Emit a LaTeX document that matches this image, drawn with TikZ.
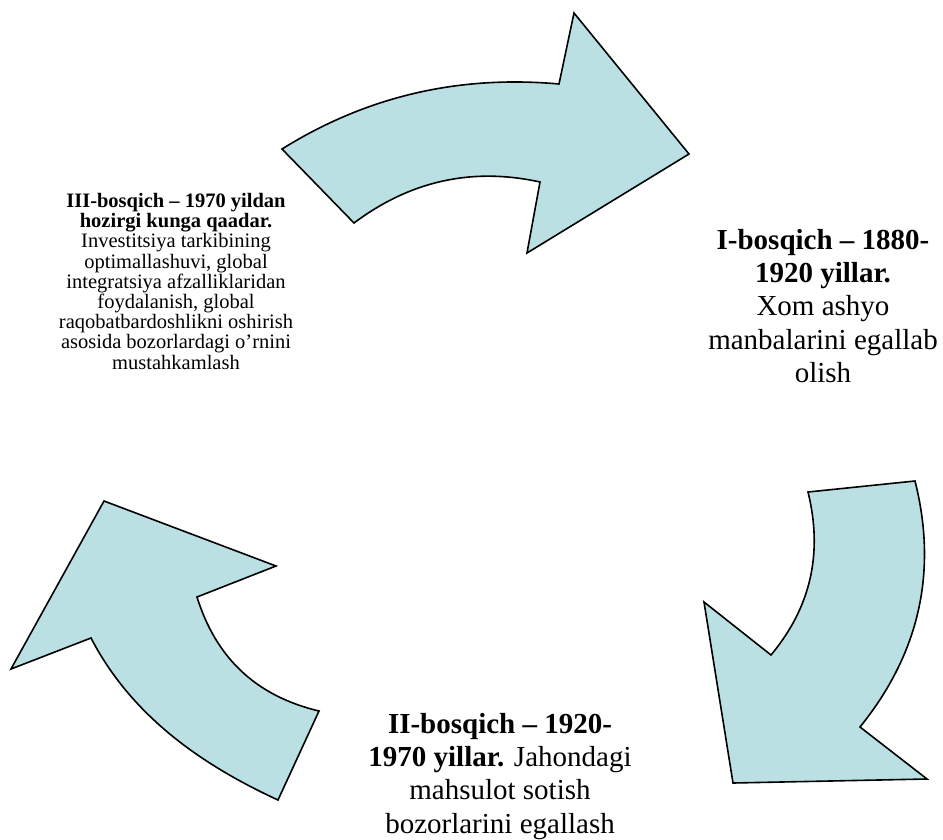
\documentclass[tikz,border=0pt]{standalone}
\usepackage{fontspec}
\setmainfont{Liberation Serif}
\usetikzlibrary{positioning}
\definecolor{arrowfill}{RGB}{187,224,227}

\begin{document}
\begin{tikzpicture}[x=1pt,y=-1pt]
    \tikzstyle{bent}=[fill=arrowfill, draw=black, line width=1.6pt, line join=miter]
    \tikzstyle{stage}=[align=center, inner sep=0pt, anchor=north, font=\fontsize{29}{33.3}\selectfont]
    \tikzstyle{stagesmall}=[align=center, inner sep=0pt, anchor=north, font=\fontsize{20.5}{20.2}\selectfont]

    \useasboundingbox (0,0) rectangle (943,839);

    \draw[bent] (282,149) .. controls (367,96) and (459,75) .. (559,84) -- (574,13) -- (689,154)
        -- (527,253) -- (540,182) .. controls (472,167) and (410,181) .. (354,223) -- cycle;
    \draw[bent] (808,492) -- (915,481) .. controls (938,572) and (919,654) .. (860,727)
        -- (927,779) -- (733,783) -- (704,602) -- (771,655) .. controls (811,607) and (823,553) .. (808,492) -- cycle;
    \draw[bent] (104,501) -- (276,566) -- (197,597) .. controls (216,658) and (256,696) .. (319,711)
        -- (278,800) .. controls (200,764) and (131,715) .. (91,638) -- (11,669) -- cycle;

    \node[stage] (first) at (823,229) {\textbf{I-bosqich -- 1880-}\\\textbf{1920 yillar.}\\Xom ashyo\\manbalarini egallab\\olish};
    \node[stage] (second) at (500,713) {\textbf{II-bosqich -- 1920-}\\\textbf{1970 yillar.} Jahondagi\\mahsulot sotish\\bozorlarini egallash};
    \node[stagesmall] (third) at (176,193) {\textbf{III-bosqich -- 1970 yildan}\\\textbf{hozirgi kunga qaadar.}\\Investitsiya tarkibining\\optimallashuvi, global\\integratsiya afzalliklaridan\\foydalanish, global\\raqobatbardoshlikni oshirish\\asosida bozorlardagi o’rnini\\mustahkamlash};
\end{tikzpicture}
\end{document}
